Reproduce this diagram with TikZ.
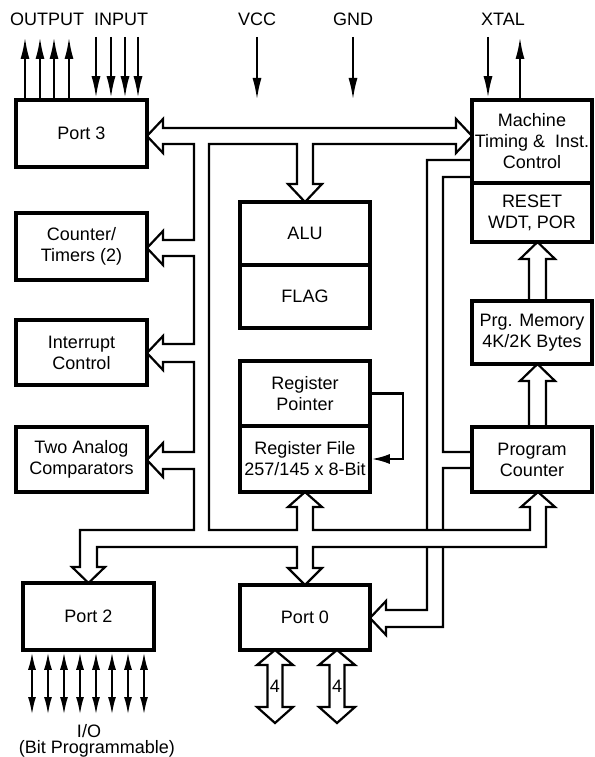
\documentclass[tikz,border=0pt]{standalone}
\usepackage{fontspec}
\setmainfont{Liberation Sans}
\usetikzlibrary{arrows.meta}

\begin{document}
\begin{tikzpicture}[x=1pt, y=-1pt,
    font=\fontsize{18}{21}\selectfont,
    blk/.style={draw, line width=3.6pt, fill=white, align=center, inner sep=0pt},
    bus/.style={line width=2.2pt, fill=white, line join=miter},
    sig/.style={line width=2.3pt, -{Latex[length=22pt,width=9pt]}},
    sigboth/.style={line width=2.3pt, {Latex[length=18pt,width=8pt]}-{Latex[length=18pt,width=8pt]}}]
    \useasboundingbox (0,0) rectangle (594,757);

    % 右侧竖直总线 (Machine -> Port 0, 接 Program Counter)
    \draw[bus] (472,160) -- (427,160) -- (427,610) -- (386,610) -- (386,601) -- (370,618)
        -- (386,635) -- (386,627) -- (443,627) -- (443,468) -- (472,468) -- (472,452)
        -- (443,452) -- (443,177) -- (472,177) -- cycle;

    % 主数据总线
    \draw[bus] (147,136) -- (163,119) -- (163,128) -- (456,128) -- (456,119) -- (472,136)
        -- (456,153) -- (456,144) -- (313,144) -- (313,184) -- (322,184) -- (305,202)
        -- (288,184) -- (297,184) -- (297,144) -- (209,144) -- (209,530) -- (297,530)
        -- (297,507) -- (288,507) -- (305,492) -- (322,507) -- (313,507) -- (313,530)
        -- (530,530) -- (530,507) -- (521,507) -- (538,492) -- (555,507) -- (546,507)
        -- (546,547) -- (313,547) -- (313,568) -- (322,568) -- (305,585) -- (288,568)
        -- (297,568) -- (297,547) -- (97,547) -- (97,567) -- (105,567) -- (88.5,583)
        -- (72,567) -- (80,567) -- (80,530) -- (194,530)
        -- (194,469) -- (163,469) -- (163,477) -- (147,460) -- (163,443) -- (163,452)
        -- (194,452) -- (194,362) -- (163,362) -- (163,370) -- (147,353) -- (163,336)
        -- (163,344) -- (194,344) -- (194,256) -- (163,256) -- (163,265) -- (147,248)
        -- (163,231) -- (163,240) -- (194,240) -- (194,144) -- (163,144) -- (163,153) -- cycle;

    % 程序存储器相关的空心箭头
    \draw[bus] (529,301) -- (529,259) -- (520,259) -- (537.5,242) -- (555,259) -- (546,259) -- (546,301);
    \draw[bus] (529,427) -- (529,381) -- (520,381) -- (537.5,364) -- (555,381) -- (546,381) -- (546,427);

    % 各功能模块
    \node[blk, minimum width=131, minimum height=67] (port3) at (81.5,133.5) {Port 3};
    \node[blk, minimum width=131, minimum height=67] (timers) at (81.5,246.5) {Counter/\\Timers (2)};
    \node[blk, minimum width=131, minimum height=65] (intr) at (81.5,352.5) {Interrupt\\Control};
    \node[blk, minimum width=131, minimum height=65] (comp) at (81.5,459.5) {Two Analog\\Comparators};
    \node[blk, minimum width=131, minimum height=67] (port2) at (88.5,616.5) {Port 2};
    \node[blk, minimum width=130, minimum height=63] (alu) at (305,233.5) {ALU};
    \node[blk, minimum width=130, minimum height=63] (flag) at (305,296.5) {FLAG};
    \node[blk, minimum width=130, minimum height=65] (rp) at (305,393.5) {Register\\Pointer};
    \node[blk, minimum width=130, minimum height=66] (rf) at (305,459) {Register File\\257/145 x 8-Bit};
    \node[blk, minimum width=130, minimum height=65] (port0) at (305,617.5) {Port 0};
    \node[blk, minimum width=120, minimum height=83] (mtc) at (532,141.5) {Machine\\Timing \& \ Inst.\\Control};
    \node[blk, minimum width=120, minimum height=59] (reset) at (532,212.5) {RESET\\WDT, POR};
    \node[blk, minimum width=120, minimum height=63] (prg) at (532,332.5) {Prg. Memory\\4K/2K Bytes};
    \node[blk, minimum width=120, minimum height=65] (pc) at (532,459.5) {Program\\Counter};

    % 寄存器指针 -> 寄存器文件
    \draw[line width=2.2pt, -{Latex[length=18pt,width=10pt]}] (rp.east) -- ++(31,0) |- (rf.east);

    % 顶部引脚
    \node (lout) at (47,19) {OUTPUT};
    \node (lin) at (121,19) {INPUT};
    \node (lvcc) at (257,19) {VCC};
    \node (lgnd) at (353,19) {GND};
    \node (lxtal) at (503,19) {XTAL};
    \foreach \x in {25,40,54,69}
        \draw[sig] (\x,0 |- port3.north) -- (\x,37);
    \foreach \x in {96,111,125,138}
        \draw[sig] (\x,37) -- (\x,0 |- port3.north);
    \draw[sig] (257,37) -- (257,100);
    \draw[sig] (353,37) -- (353,100);
    \draw[sig] (488,37) -- (488,0 |- mtc.north);
    \draw[sig] (520,0 |- mtc.north) -- (520,37);

    % Port 2 的双向 I/O
    \foreach \x in {32,48,...,144}
        \draw[sigboth] (\x,0 |- port2.south) -- (\x,715);
    \node (lio) at (89,731) {I/O};
    \node (lbit) at (97,749) {(Bit Programmable)};

    % Port 0 的 4 位空心双向箭头
    \foreach \c in {275,337} {
        \draw[bus] (\c-7.5,665) -- (\c-18,665) -- (\c,650) -- (\c+18,665) -- (\c+7.5,665)
            -- (\c+7.5,707) -- (\c+18,707) -- (\c,723) -- (\c-18,707) -- (\c-7.5,707) -- cycle;
        \node[inner sep=0.5pt] at (\c,686) {4};
    }
\end{tikzpicture}
\end{document}
